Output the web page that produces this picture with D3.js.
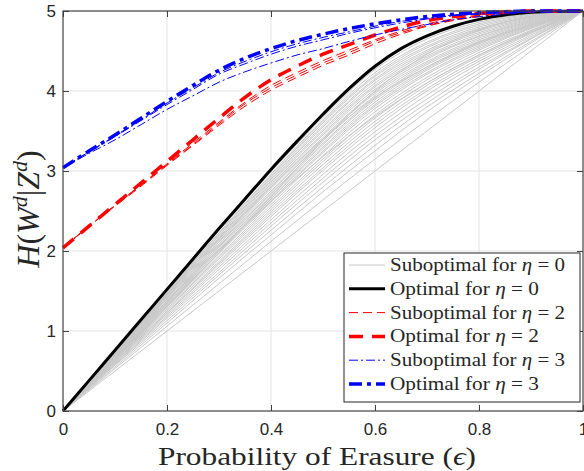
<!DOCTYPE html>
<html>
<head>
<meta charset="utf-8">
<script src="https://cdn.jsdelivr.net/npm/d3@7"></script>
<style>
body { margin: 0; background: #fff; }
text { fill: #262626; }
</style>
</head>
<body>
<svg id="chart" width="584" height="471"></svg>
<script>
// erasure probabilities
var epsFine = [0, 0.05, 0.1, 0.15, 0.2, 0.25, 0.3, 0.35, 0.4, 0.45, 0.5, 0.55, 0.6, 0.65, 0.7, 0.75, 0.8, 0.85, 0.9, 0.95, 1];
var epsCoarse = [0, 0.1, 0.2, 0.3, 0.4, 0.5, 0.6, 0.7, 0.8, 0.9, 1];

// optimal curves (on epsFine)
var optimal0 = [0, 0.38, 0.76, 1.14, 1.52, 1.90, 2.28, 2.65, 3.02, 3.37, 3.71, 4.03, 4.31, 4.53, 4.69, 4.81, 4.895, 4.95, 4.983, 4.997, 5];
var optimal2 = [2.04, 2.31, 2.58, 2.85, 3.12, 3.39, 3.66, 3.92, 4.14, 4.31, 4.46, 4.58, 4.70, 4.80, 4.88, 4.93, 4.97, 4.99, 5, 5, 5];
var optimal3 = [3.04, 3.25, 3.45, 3.66, 3.87, 4.07, 4.26, 4.41, 4.53, 4.63, 4.71, 4.78, 4.84, 4.89, 4.93, 4.96, 4.98, 4.99, 5, 5, 5];

// suboptimal curves for eta = 2 and eta = 3 (on epsFine)
var subopt2 = [
    [2.04, 2.31, 2.57, 2.83, 3.09, 3.35, 3.61, 3.86, 4.07, 4.23, 4.38, 4.51, 4.64, 4.75, 4.84, 4.90, 4.95, 4.98, 4.995, 5, 5],
    [2.04, 2.31, 2.57, 2.82, 3.08, 3.33, 3.59, 3.84, 4.04, 4.20, 4.35, 4.48, 4.62, 4.73, 4.82, 4.89, 4.94, 4.98, 4.99, 5, 5],
    [2.04, 2.31, 2.56, 2.81, 3.07, 3.32, 3.57, 3.81, 4.01, 4.17, 4.32, 4.45, 4.59, 4.71, 4.81, 4.88, 4.93, 4.97, 4.99, 5, 5]
];
var subopt3 = [
    [3.04, 3.24, 3.44, 3.64, 3.85, 4.04, 4.23, 4.37, 4.49, 4.59, 4.67, 4.74, 4.81, 4.87, 4.91, 4.95, 4.97, 4.98, 5, 5, 5],
    [3.04, 3.24, 3.43, 3.63, 3.83, 4.02, 4.21, 4.34, 4.46, 4.56, 4.64, 4.72, 4.79, 4.85, 4.90, 4.94, 4.96, 4.98, 5, 5, 5],
    [3.04, 3.22, 3.39, 3.58, 3.77, 3.94, 4.11, 4.24, 4.35, 4.45, 4.53, 4.62, 4.70, 4.77, 4.83, 4.89, 4.93, 4.96, 4.99, 5, 5]
];

// suboptimal curves for eta = 0 (on epsCoarse)
var subopt0 = [
    [0, 0.75, 1.50, 2.26, 2.99, 3.67, 4.27, 4.65, 4.86, 4.97, 5],
    [0, 0.74, 1.49, 2.23, 2.96, 3.64, 4.23, 4.61, 4.84, 4.96, 5],
    [0, 0.74, 1.48, 2.22, 2.94, 3.62, 4.20, 4.59, 4.82, 4.95, 5],
    [0, 0.73, 1.47, 2.20, 2.92, 3.60, 4.18, 4.56, 4.80, 4.94, 5],
    [0, 0.73, 1.46, 2.19, 2.90, 3.57, 4.15, 4.54, 4.78, 4.93, 5],
    [0, 0.72, 1.45, 2.17, 2.88, 3.55, 4.13, 4.51, 4.77, 4.92, 5],
    [0, 0.72, 1.44, 2.16, 2.86, 3.52, 4.10, 4.49, 4.75, 4.91, 5],
    [0, 0.71, 1.43, 2.14, 2.84, 3.50, 4.07, 4.47, 4.73, 4.90, 5],
    [0, 0.71, 1.42, 2.12, 2.82, 3.47, 4.05, 4.44, 4.71, 4.89, 5],
    [0, 0.70, 1.41, 2.11, 2.80, 3.45, 4.02, 4.42, 4.69, 4.88, 5],
    [0, 0.70, 1.40, 2.09, 2.78, 3.42, 3.99, 4.40, 4.68, 4.87, 5],
    [0, 0.69, 1.38, 2.08, 2.75, 3.40, 3.97, 4.37, 4.66, 4.86, 5],
    [0, 0.69, 1.37, 2.06, 2.73, 3.38, 3.94, 4.35, 4.64, 4.85, 5],
    [0, 0.68, 1.36, 2.05, 2.71, 3.35, 3.91, 4.33, 4.62, 4.84, 5],
    [0, 0.68, 1.35, 2.03, 2.69, 3.33, 3.89, 4.30, 4.61, 4.83, 5],
    [0, 0.67, 1.34, 2.01, 2.67, 3.30, 3.86, 4.28, 4.59, 4.82, 5],
    [0, 0.67, 1.33, 2.00, 2.65, 3.28, 3.83, 4.26, 4.57, 4.81, 5],
    [0, 0.66, 1.32, 1.98, 2.63, 3.25, 3.81, 4.23, 4.55, 4.80, 5],
    [0, 0.66, 1.31, 1.97, 2.61, 3.23, 3.78, 4.21, 4.53, 4.79, 5],
    [0, 0.65, 1.30, 1.94, 2.58, 3.19, 3.74, 4.17, 4.51, 4.78, 5],
    [0, 0.64, 1.28, 1.92, 2.55, 3.15, 3.70, 4.14, 4.48, 4.76, 5],
    [0, 0.63, 1.27, 1.90, 2.52, 3.12, 3.66, 4.10, 4.45, 4.75, 5],
    [0, 0.62, 1.25, 1.87, 2.49, 3.08, 3.62, 4.07, 4.43, 4.73, 5],
    [0, 0.62, 1.23, 1.85, 2.46, 3.04, 3.58, 4.03, 4.40, 4.72, 5],
    [0, 0.61, 1.22, 1.83, 2.43, 3.01, 3.54, 4.00, 4.37, 4.70, 5],
    [0, 0.60, 1.20, 1.80, 2.39, 2.96, 3.49, 3.95, 4.34, 4.68, 5],
    [0, 0.59, 1.18, 1.77, 2.35, 2.91, 3.44, 3.90, 4.30, 4.66, 5],
    [0, 0.58, 1.16, 1.73, 2.31, 2.86, 3.39, 3.85, 4.27, 4.65, 5],
    [0, 0.57, 1.13, 1.70, 2.26, 2.80, 3.32, 3.80, 4.22, 4.62, 5],
    [0, 0.55, 1.10, 1.66, 2.20, 2.74, 3.25, 3.74, 4.18, 4.60, 5],
    [0, 0.53, 1.06, 1.59, 2.12, 2.64, 3.15, 3.64, 4.11, 4.56, 5],
    [0, 0.74, 1.46, 2.15, 2.80, 3.40, 3.92, 4.30, 4.60, 4.82, 5],
    [0, 0.64, 1.30, 1.98, 2.68, 3.38, 4.00, 4.46, 4.76, 4.93, 5],
    [0, 0.70, 1.38, 2.02, 2.62, 3.18, 3.68, 4.10, 4.45, 4.74, 5],
    [0, 0.5, 1, 1.5, 2, 2.5, 3, 3.5, 4, 4.5, 5]
];

var xTicks = [0, 0.2, 0.4, 0.6, 0.8, 1];
var yTicks = [0, 1, 2, 3, 4, 5];
var legendKinds = ["Suboptimal for ", "Optimal for ", "Suboptimal for ", "Optimal for ", "Suboptimal for ", "Optimal for "];
var legendEta = ["0", "0", "2", "2", "3", "3"];

var margin = {top: 11, right: 1, bottom: 60, left: 63};
var width = 584 - margin.left - margin.right;
var height = 471 - margin.top - margin.bottom;

var svg = d3.select("#chart");
var g = svg.append("g").attr("transform", "translate(" + margin.left + "," + margin.top + ")");

var x = d3.scaleLinear().domain([0, 1]).range([0, width]);
var y = d3.scaleLinear().domain([0, 5]).range([height, 0]);

// grid
g.append("g").selectAll("line").data(xTicks.slice(1, -1)).enter().append("line")
    .attr("x1", function (d) { return x(d); }).attr("x2", function (d) { return x(d); })
    .attr("y1", 0).attr("y2", height)
    .attr("stroke", "#e3e3e3").attr("stroke-width", 1);
g.append("g").selectAll("line").data(yTicks.slice(1, -1)).enter().append("line")
    .attr("y1", function (d) { return y(d); }).attr("y2", function (d) { return y(d); })
    .attr("x1", 0).attr("x2", width)
    .attr("stroke", "#e3e3e3").attr("stroke-width", 1);

function lineFor(xs) {
    return d3.line()
        .x(function (d, i) { return x(xs[i]); })
        .y(function (d) { return y(d); })
        .curve(d3.curveCatmullRom.alpha(0.5));
}
var coarseLine = lineFor(epsCoarse);
var fineLine = lineFor(epsFine);

var styles = [
    {color: "#c8c8c8", width: 1, dash: null},
    {color: "#000000", width: 3, dash: null},
    {color: "#ff0000", width: 1, dash: "9,5"},
    {color: "#ff0000", width: 3.5, dash: "14,9"},
    {color: "#0000ff", width: 1, dash: "9,3,2,3"},
    {color: "#0000ff", width: 3.5, dash: "13,5,4,5"}
];

function drawPath(d, gen, s) {
    var p = g.append("path").attr("d", gen(d))
        .attr("fill", "none")
        .attr("stroke", s.color)
        .attr("stroke-width", s.width);
    if (s.dash) p.attr("stroke-dasharray", s.dash);
}

subopt0.forEach(function (c) { drawPath(c, coarseLine, styles[0]); });
drawPath(optimal0, fineLine, styles[1]);
subopt2.forEach(function (c) { drawPath(c, fineLine, styles[2]); });
drawPath(optimal2, fineLine, styles[3]);
subopt3.forEach(function (c) { drawPath(c, fineLine, styles[4]); });
drawPath(optimal3, fineLine, styles[5]);

// axes
var fmt = d3.format("~g");
var axB = g.append("g").attr("transform", "translate(0," + height + ")")
    .call(d3.axisBottom(x).tickValues(xTicks).tickFormat(fmt).tickSizeInner(-6).tickSizeOuter(0).tickPadding(12));
var axL = g.append("g")
    .call(d3.axisLeft(y).tickValues(yTicks).tickFormat(fmt).tickSizeInner(-6).tickSizeOuter(0).tickPadding(7));
var axT = g.append("g")
    .call(d3.axisTop(x).tickValues(xTicks).tickFormat("").tickSizeInner(-6).tickSizeOuter(0));
var axR = g.append("g").attr("transform", "translate(" + width + ",0)")
    .call(d3.axisRight(y).tickValues(yTicks).tickFormat("").tickSizeInner(-6).tickSizeOuter(0));
[axB, axL, axT, axR].forEach(function (a) {
    a.select(".domain").remove();
    a.selectAll("line").attr("stroke", "#404040");
    a.selectAll("text").attr("font-family", "Liberation Sans, Arial, sans-serif")
        .attr("font-size", 17).attr("fill", "#262626");
});
g.append("rect").attr("x", 0).attr("y", 0).attr("width", width).attr("height", height)
    .attr("fill", "none").attr("stroke", "#404040").attr("stroke-width", 1.2);

// axis titles
var xt = svg.append("text")
    .attr("x", margin.left + width / 2 - 6).attr("y", 465)
    .attr("text-anchor", "middle")
    .attr("font-family", "Liberation Serif, Times New Roman, serif")
    .attr("font-size", 26)
    .attr("textLength", 318).attr("lengthAdjust", "spacingAndGlyphs");
xt.append("tspan").text("Probability of Erasure (");
xt.append("tspan").attr("font-style", "italic").text("\u03F5");
xt.append("tspan").text(")");

var yt = svg.append("text")
    .attr("transform", "translate(39," + (margin.top + height / 2 - 2) + ") rotate(-90)")
    .attr("text-anchor", "middle")
    .attr("font-family", "Liberation Serif, Times New Roman, serif")
    .attr("font-size", 32);
yt.append("tspan").attr("font-style", "italic").text("H");
yt.append("tspan").text("(");
yt.append("tspan").attr("font-style", "italic").text("W");
yt.append("tspan").attr("font-style", "italic").attr("font-size", 22).attr("dy", -12).text("d");
yt.append("tspan").attr("dy", 12).text("|");
yt.append("tspan").attr("font-style", "italic").text("Z");
yt.append("tspan").attr("font-style", "italic").attr("font-size", 22).attr("dy", -12).text("d");
yt.append("tspan").attr("dy", 12).text(")");

// legend
var lg = svg.append("g").attr("transform", "translate(344,253)");
lg.append("rect").attr("x", 0).attr("y", 0).attr("width", 236).attr("height", 149)
    .attr("fill", "#fff").attr("stroke", "#262626").attr("stroke-width", 1);
legendKinds.forEach(function (k, i) {
    var cy = 12 + i * 23.8;
    var s = styles[i];
    var l = lg.append("line").attr("x1", 5).attr("x2", 41).attr("y1", cy).attr("y2", cy)
        .attr("stroke", s.color).attr("stroke-width", s.width);
    if (s.dash) l.attr("stroke-dasharray", s.dash);
    var t = lg.append("text").attr("x", 46).attr("y", cy + 6)
        .attr("font-family", "Liberation Serif, Times New Roman, serif")
        .attr("font-size", 19)
        .attr("textLength", i % 2 == 0 ? 175 : 149).attr("lengthAdjust", "spacingAndGlyphs");
    t.append("tspan").text(k);
    t.append("tspan").attr("font-style", "italic").text("\u03B7");
    t.append("tspan").text(" = " + legendEta[i]);
});
</script>
</body>
</html>
